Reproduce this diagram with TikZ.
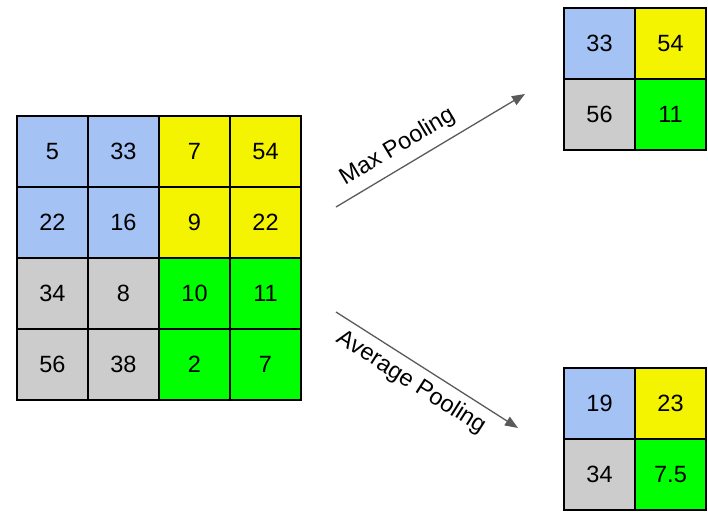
\documentclass[tikz,border=0pt]{standalone}
\usepackage{fontspec}
\setmainfont{Liberation Sans}
\usetikzlibrary{positioning,arrows.meta}
\definecolor{cellblue}{HTML}{A4C2F4}
\definecolor{cellyellow}{HTML}{F4F400}
\definecolor{cellgray}{HTML}{CCCCCC}
\definecolor{cellgreen}{HTML}{00FF00}
\definecolor{flowgray}{HTML}{5A5A5A}

\begin{document}
\begin{tikzpicture}[x=1pt,y=-1pt,
    cell/.style={draw=black,line width=1.6pt,minimum size=71pt,inner sep=0pt,
      font=\fontsize{23.5}{28}\selectfont},
    flow/.style={draw=flowgray,line width=1.3pt,-{Triangle[length=13pt,width=10pt]}},
    flowlab/.style={sloped,font=\fontsize{23.5}{28}\selectfont}]
  \useasboundingbox (0,0) rectangle (708,518);
  % input feature map 4x4
  \foreach \r/\c/\v/\col in {0/0/5/cellblue, 0/1/33/cellblue, 0/2/7/cellyellow, 0/3/54/cellyellow,
                             1/0/22/cellblue, 1/1/16/cellblue, 1/2/9/cellyellow, 1/3/22/cellyellow,
                             2/0/34/cellgray, 2/1/8/cellgray, 2/2/10/cellgreen, 2/3/11/cellgreen,
                             3/0/56/cellgray, 3/1/38/cellgray, 3/2/2/cellgreen, 3/3/7/cellgreen}
    \node[cell,fill=\col] (in-\r-\c) at (52.5+71*\c,151.5+71*\r) {\v};
  % max pooling result
  \foreach \r/\c/\v/\col in {0/0/33/cellblue, 0/1/54/cellyellow, 1/0/56/cellgray, 1/1/11/cellgreen}
    \node[cell,fill=\col] (max-\r-\c) at (599.5+71*\c,43.5+71*\r) {\v};
  % average pooling result
  \foreach \r/\c/\v/\col in {0/0/19/cellblue, 0/1/23/cellyellow, 1/0/34/cellgray, 1/1/7.5/cellgreen}
    \node[cell,fill=\col] (avg-\r-\c) at (599.5+71*\c,403.5+71*\r) {\v};
  % arrows
  \coordinate (maxfrom) at (336,207);
  \coordinate (maxto) at (525,94);
  \coordinate (avgfrom) at (336,312);
  \coordinate (avgto) at (518,428);
  \draw[flow] (maxfrom) -- node[flowlab,pos=0.38,above=5pt] (maxlab) {Max Pooling} (maxto);
  \draw[flow] (avgfrom) -- node[flowlab,pos=0.47,below=4pt] (avglab) {Average Pooling} (avgto);
\end{tikzpicture}
\end{document}
